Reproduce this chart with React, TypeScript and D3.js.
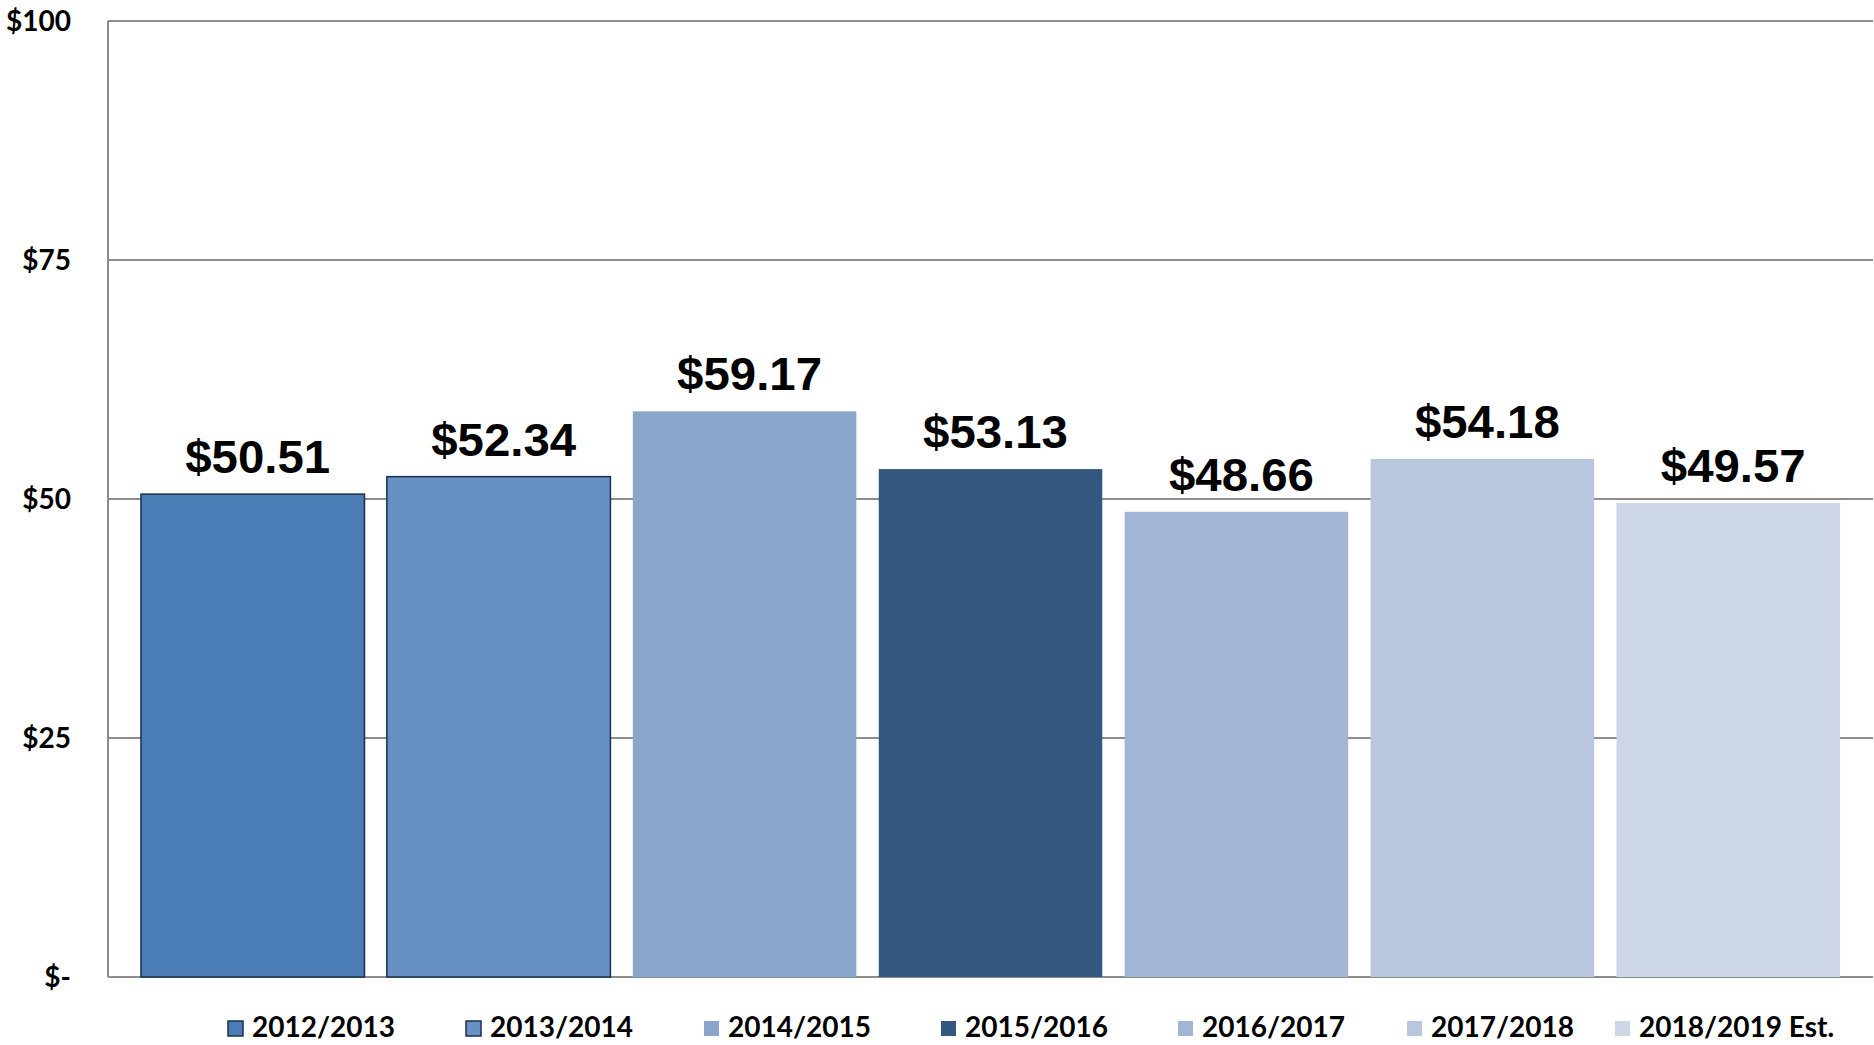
import React from 'react';
import * as d3 from 'd3';

const categories = ['2012/2013', '2013/2014', '2014/2015', '2015/2016', '2016/2017', '2017/2018', '2018/2019 Est.'];
const values = [50.51, 52.34, 59.17, 53.13, 48.66, 54.18, 49.57];
const valueLabels = ['$50.51', '$52.34', '$59.17', '$53.13', '$48.66', '$54.18', '$49.57'];
const colors = ['#4a7db5', '#6790c4', '#8aa5cc', '#33577e', '#a3b5d5', '#b9c6df', '#ccd6e7'];
const outlined = [true, true, false, false, false, false, false];
const yTicks = [0, 25, 50, 75, 100];
const yTickLabels = ['$-', '$25', '$50', '$75', '$100'];

const W = 1874;
const H = 1045;
const plotLeft = 108;
const plotRight = 1873;
const plotTop = 21;
const plotBottom = 977;
const legendX = [228, 466, 704, 941, 1178, 1407, 1615];

export default function App() {
  const x = d3.scaleBand<string>().domain(categories).range([plotLeft, plotRight]).paddingInner(0.091).paddingOuter(0.134);
  const y = d3.scaleLinear().domain([0, 100]).range([plotBottom, plotTop]);
  const gridColor = '#8c8c8c';
  return (
    <svg width={W} height={H} style={{ position: 'absolute', left: 0, top: 0, background: '#fff' }}>
      <rect x={0} y={0} width={W} height={H} fill="#fff" />
      {yTicks.map((t, i) => (
        <g key={t}>
          <line x1={plotLeft} x2={plotRight} y1={y(t)} y2={y(t)} stroke={gridColor} strokeWidth={2} />
          <text x={71} y={y(t)} dy="0.36em" textAnchor="end" fontFamily="Lato, 'Open Sans', sans-serif" fontWeight={700} fontSize={28} fill="#000">
            {yTickLabels[i]}
          </text>
        </g>
      ))}
      <line x1={plotLeft} x2={plotLeft} y1={plotTop} y2={plotBottom} stroke={gridColor} strokeWidth={2} />
      {categories.map((c, i) => (
        <rect key={c} x={x(c)} y={y(values[i])} width={x.bandwidth()} height={plotBottom - y(values[i])}
          fill={colors[i]} stroke={outlined[i] ? '#1c2f4a' : 'none'} strokeWidth={outlined[i] ? 1.5 : 0} />
      ))}
      {categories.map((c, i) => (
        <g key={'l' + c} transform={`translate(${(x(c) as number) + x.bandwidth() / 2 + 5},${y(values[i]) - 21}) scale(1.03,1)`}>
          <text x={0} y={0} textAnchor="middle" fontFamily="'Liberation Sans', Arial, sans-serif" fontWeight={700} fontSize={46} fill="#000">
            {valueLabels[i]}
          </text>
        </g>
      ))}
      {categories.map((c, i) => (
        <g key={'lg' + c}>
          <rect x={legendX[i]} y={1021} width={15} height={15} fill={colors[i]} stroke={outlined[i] ? '#1c2f4a' : 'none'} strokeWidth={outlined[i] ? 1.5 : 0} />
          <text x={legendX[i] + 24} y={1037} fontFamily="Lato, 'Open Sans', sans-serif" fontWeight={700} fontSize={28} fill="#000">
            {c}
          </text>
        </g>
      ))}
    </svg>
  );
}
